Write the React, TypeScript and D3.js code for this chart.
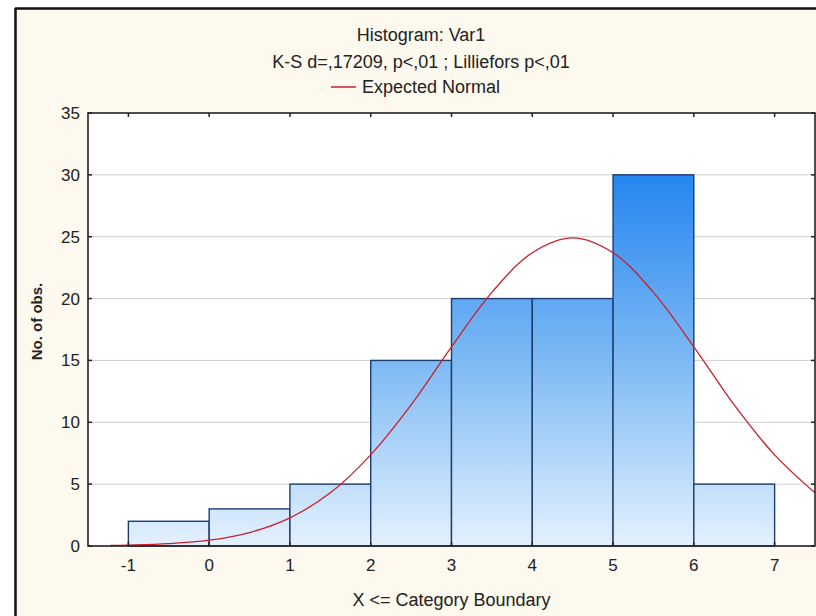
import React from "react";
import * as d3 from "d3";

const binStarts = [-1, 0, 1, 2, 3, 4, 5, 6];
const binEnds = [0, 1, 2, 3, 4, 5, 6, 7];
const binCounts = [2, 3, 5, 15, 20, 20, 30, 5];

const xTicks = [-1, 0, 1, 2, 3, 4, 5, 6, 7];
const yTicks = [0, 5, 10, 15, 20, 25, 30, 35];

// Expected normal curve
const curveX = [-1.22, -1, -0.5, 0, 0.5, 1, 1.5, 2, 2.5, 3, 3.5, 4, 4.5, 5, 5.5, 6, 6.5, 7, 7.5];
const curveY = [0.04, 0.07, 0.19, 0.47, 1.09, 2.28, 4.3, 7.37, 11.4, 16.1, 20.5, 23.7, 24.9, 23.7, 20.5, 16.1, 11.4, 7.37, 4.3];

const titleText = "Histogram: Var1";
const subtitleText = "K-S d=,17209, p<,01 ; Lilliefors p<,01";
const legendText = "Expected Normal";
const xAxisTitle = "X <= Category Boundary";
const yAxisTitle = "No. of obs.";

export default function App() {
  const W = 816;
  const H = 616;
  const left = 88;
  const right = 815;
  const top = 113;
  const bottom = 546;

  const x = d3.scaleLinear().domain([-1.5, 7.5]).range([left, right]);
  const y = d3.scaleLinear().domain([0, 35]).range([bottom, top]);

  const line = d3
    .line<number>()
    .x((_, i) => x(curveX[i]))
    .y((d) => y(d))
    .curve(d3.curveCatmullRom);

  const font = "'Liberation Sans', Arial, sans-serif";
  const titleCx = 421;

  return (
    <div style={{ position: "fixed", left: 0, top: 0 }}>
      <svg width={W} height={H} style={{ display: "block", background: "#ffffff" }}>
        <defs>
          <linearGradient id="barGrad" gradientUnits="userSpaceOnUse" x1={0} x2={0} y1={y(30)} y2={y(0)}>
            <stop offset="0" stopColor="#2586ef" />
            <stop offset="0.5" stopColor="#7db9f4" />
            <stop offset="1" stopColor="#e4f1fd" />
          </linearGradient>
          <clipPath id="plotClip">
            <rect x={left} y={top} width={right - left} height={bottom - top} />
          </clipPath>
        </defs>

        {/* frame */}
        <rect x={15} y={8} width={W} height={H} fill="#fdf9ee" />
        <line x1={15} y1={8.5} x2={W} y2={8.5} stroke="#111" strokeWidth={2.5} />
        <line x1={15.5} y1={8} x2={15.5} y2={H} stroke="#111" strokeWidth={2.5} />

        {/* titles */}
        <g fontFamily={font} fill="#222" fontSize={18} textAnchor="middle">
          <text x={titleCx} y={41}>{titleText}</text>
          <text x={titleCx} y={68}>{subtitleText}</text>
        </g>
        <g fontFamily={font} fill="#222" fontSize={18}>
          <line x1={331} x2={356} y1={87} y2={87} stroke="#c8202c" strokeWidth={1.5} />
          <text x={362} y={93}>{legendText}</text>
        </g>

        {/* plot area */}
        <rect x={left} y={top} width={right - left} height={bottom - top} fill="#ffffff" />
        {yTicks
          .filter((t) => t > 0 && t < 35)
          .map((t) => (
            <line key={"g" + t} x1={left} x2={right} y1={y(t)} y2={y(t)} stroke="#cfcfcf" strokeWidth={1} />
          ))}

        {/* bars */}
        {binCounts.map((c, i) => (
          <rect
            key={"b" + i}
            x={x(binStarts[i])}
            y={y(c)}
            width={x(binEnds[i]) - x(binStarts[i])}
            height={y(0) - y(c)}
            fill="url(#barGrad)"
            stroke="#1c3d6e"
            strokeWidth={1.4}
          />
        ))}

        {/* expected normal */}
        <path d={line(curveY) || ""} fill="none" stroke="#c8202c" strokeWidth={1.3} clipPath="url(#plotClip)" />

        {/* border */}
        <rect x={left} y={top} width={right - left} height={bottom - top} fill="none" stroke="#222" strokeWidth={1.6} />

        {/* ticks */}
        {xTicks.map((t) => (
          <g key={"xt" + t}>
            <line x1={x(t)} x2={x(t)} y1={top} y2={top + 4} stroke="#222" strokeWidth={1.5} />
            <line x1={x(t)} x2={x(t)} y1={bottom} y2={bottom - 4} stroke="#222" strokeWidth={1.5} />
          </g>
        ))}
        {yTicks.map((t) => (
          <g key={"yt" + t}>
            <line x1={left} x2={left + 4} y1={y(t)} y2={y(t)} stroke="#222" strokeWidth={1.5} />
            <line x1={right} x2={right - 4} y1={y(t)} y2={y(t)} stroke="#222" strokeWidth={1.5} />
          </g>
        ))}

        {/* tick labels */}
        <g fontFamily={font} fill="#222" fontSize={17}>
          {yTicks.map((t) => (
            <text key={"yl" + t} x={80} y={y(t) + 6} textAnchor="end">
              {t}
            </text>
          ))}
          {xTicks.map((t) => (
            <text key={"xl" + t} x={x(t)} y={571} textAnchor="middle">
              {t}
            </text>
          ))}
        </g>

        {/* axis titles */}
        <text x={(left + right) / 2} y={606} textAnchor="middle" fontFamily={font} fontSize={18} fill="#222">
          {xAxisTitle}
        </text>
        <text
          transform={`translate(42, ${(top + bottom) / 2 - 8}) rotate(-90)`}
          textAnchor="middle"
          fontFamily={font}
          fontSize={15}
          fontWeight="bold"
          fill="#222"
        >
          {yAxisTitle}
        </text>
      </svg>
    </div>
  );
}
